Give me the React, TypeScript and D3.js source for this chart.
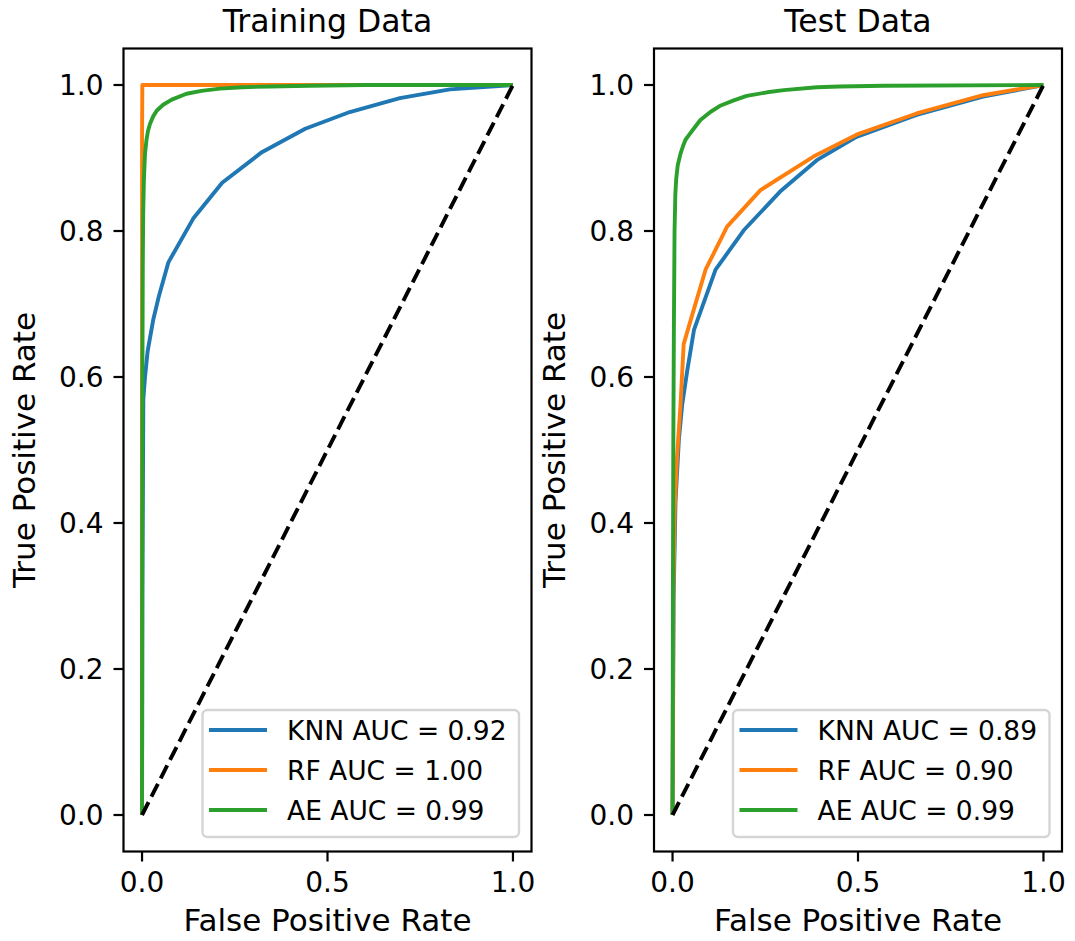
import React from "react";
import * as d3 from "d3";

// ---------- Data ----------
const trainKnnFpr = [0, 0.001, 0.0035, 0.008, 0.015, 0.03, 0.045, 0.071, 0.138, 0.216, 0.323, 0.44, 0.56, 0.695, 0.83, 1];
const trainKnnTpr = [0, 0.3, 0.57, 0.6, 0.635, 0.678, 0.71, 0.757, 0.817, 0.866, 0.908, 0.94, 0.963, 0.982, 0.994, 1];

const trainRfFpr = [0, 0, 0.0008, 1];
const trainRfTpr = [0, 0.93, 1, 1];

const trainAeFpr = [0, 0.0005, 0.001, 0.002, 0.003, 0.005, 0.008, 0.012, 0.016, 0.0216, 0.03, 0.04, 0.057, 0.08, 0.12, 0.16, 0.21, 0.27, 0.345, 0.45, 0.6, 1];
const trainAeTpr = [0, 0.4, 0.6, 0.75, 0.82, 0.87, 0.906, 0.925, 0.937, 0.947, 0.957, 0.965, 0.973, 0.98, 0.988, 0.992, 0.995, 0.997, 0.998, 0.999, 1, 1];

const testKnnFpr = [0, 0.003, 0.008, 0.017, 0.026, 0.04, 0.058, 0.116, 0.192, 0.29, 0.389, 0.496, 0.658, 0.837, 1];
const testKnnTpr = [0, 0.3, 0.43, 0.514, 0.562, 0.61, 0.665, 0.747, 0.801, 0.854, 0.897, 0.929, 0.959, 0.984, 1];

const testRfFpr = [0, 0.002, 0.006, 0.012, 0.0215, 0.03, 0.057, 0.089, 0.147, 0.237, 0.38, 0.496, 0.658, 0.837, 1];
const testRfTpr = [0, 0.3, 0.42, 0.49, 0.562, 0.645, 0.692, 0.747, 0.806, 0.856, 0.902, 0.932, 0.961, 0.986, 1];

const testAeFpr = [0, 0.001, 0.002, 0.0035, 0.0054, 0.0075, 0.01, 0.014, 0.0215, 0.028, 0.035, 0.045, 0.057, 0.075, 0.102, 0.13, 0.165, 0.2, 0.255, 0.3, 0.389, 0.45, 0.57, 1];
const testAeTpr = [0, 0.3, 0.5, 0.655, 0.8, 0.85, 0.872, 0.89, 0.906, 0.916, 0.925, 0.932, 0.94, 0.952, 0.963, 0.972, 0.979, 0.985, 0.99, 0.993, 0.997, 0.998, 0.999, 1];

const chanceFpr = [0, 1];
const chanceTpr = [0, 1];

const trainLabels = ["KNN AUC = 0.92", "RF AUC = 1.00", "AE AUC = 0.99"];
const testLabels = ["KNN AUC = 0.89", "RF AUC = 0.90", "AE AUC = 0.99"];
const seriesColors = ["#1f77b4", "#ff7f0e", "#2ca02c"];

const panelTitles = ["Training Data", "Test Data"];
const yTicks = [0, 0.2, 0.4, 0.6, 0.8, 1.0];
const xTicks = [0, 0.5, 1.0];

// ---------- Layout ----------
const W = 1075;
const H = 941;
const top = 48.5;
const bottom = 851.5;
const panelLefts = [123.5, 654];
const panelWidth = 408;
const FONT = "DejaVu Sans, sans-serif";
const LW = 3.9;

type Series = { fpr: number[]; tpr: number[] };

const panels: { title: string; labels: string[]; series: Series[] }[] = [
  {
    title: panelTitles[0],
    labels: trainLabels,
    series: [
      { fpr: trainKnnFpr, tpr: trainKnnTpr },
      { fpr: trainRfFpr, tpr: trainRfTpr },
      { fpr: trainAeFpr, tpr: trainAeTpr },
    ],
  },
  {
    title: panelTitles[1],
    labels: testLabels,
    series: [
      { fpr: testKnnFpr, tpr: testKnnTpr },
      { fpr: testRfFpr, tpr: testRfTpr },
      { fpr: testAeFpr, tpr: testAeTpr },
    ],
  },
];

function Panel({ idx }: { idx: number }) {
  const p = panels[idx];
  const left = panelLefts[idx];
  const right = left + panelWidth;
  const x = d3.scaleLinear().domain([-0.05, 1.05]).range([left, right]);
  const y = d3.scaleLinear().domain([-0.05, 1.05]).range([bottom, top]);
  const line = d3
    .line<[number, number]>()
    .x((d) => x(d[0]))
    .y((d) => y(d[1]));
  const toPts = (f: number[], t: number[]) => f.map((v, i) => [v, t[i]] as [number, number]);
  const cx = (left + right) / 2;
  const cy = (top + bottom) / 2;

  // legend geometry
  const legRight = right - 12.5;
  const legLeft = legRight - 316.5;
  const legTop = 710;
  const legBottom = 837;
  const rowYs = [730, 770, 810];

  return (
    <g>
      <defs>
        <clipPath id={`clip${idx}`}>
          <rect x={left} y={top} width={panelWidth} height={bottom - top} />
        </clipPath>
      </defs>
      <g clipPath={`url(#clip${idx})`}>
        {p.series.map((s, i) => (
          <path
            key={i}
            d={line(toPts(s.fpr, s.tpr)) || ""}
            fill="none"
            stroke={seriesColors[i]}
            strokeWidth={LW}
            strokeLinejoin="round"
            strokeLinecap="butt"
          />
        ))}
        <path
          d={line(toPts(chanceFpr, chanceTpr)) || ""}
          fill="none"
          stroke="#000"
          strokeWidth={LW}
          strokeDasharray="14.4 6.2"
        />
      </g>
      {/* frame */}
      <rect x={left} y={top} width={panelWidth} height={bottom - top} fill="none" stroke="#000" strokeWidth={2.2} />
      {/* y ticks */}
      {yTicks.map((t) => (
        <g key={"y" + t}>
          <line x1={left - 10} x2={left} y1={y(t)} y2={y(t)} stroke="#000" strokeWidth={2.2} />
          <text x={left - 20} y={y(t)} dy="0.36em" textAnchor="end" fontFamily={FONT} fontSize={28} fill="#000">
            {t.toFixed(1)}
          </text>
        </g>
      ))}
      {/* x ticks */}
      {xTicks.map((t) => (
        <g key={"x" + t}>
          <line x1={x(t)} x2={x(t)} y1={bottom} y2={bottom + 10} stroke="#000" strokeWidth={2.2} />
          <text x={x(t)} y={892} textAnchor="middle" fontFamily={FONT} fontSize={28} fill="#000">
            {t.toFixed(1)}
          </text>
        </g>
      ))}
      {/* title */}
      <text x={cx} y={32} textAnchor="middle" fontFamily={FONT} fontSize={31.5} fill="#000">
        {p.title}
      </text>
      {/* axis labels */}
      <text x={cx} y={931} textAnchor="middle" fontFamily={FONT} fontSize={31} fill="#000">
        False Positive Rate
      </text>
      <text
        transform={`translate(${left - 89},${cy}) rotate(-90)`}
        textAnchor="middle"
        fontFamily={FONT}
        fontSize={31}
        fill="#000"
      >
        True Positive Rate
      </text>
      {/* legend */}
      <rect
        x={legLeft}
        y={legTop}
        width={legRight - legLeft}
        height={legBottom - legTop}
        rx={5}
        ry={5}
        fill="#fff"
        fillOpacity={0.8}
        stroke="#d5d5d5"
        strokeWidth={2.4}
      />
      {p.labels.map((lab, i) => (
        <g key={lab}>
          <line x1={legLeft + 6.5} x2={legLeft + 64.5} y1={rowYs[i]} y2={rowYs[i]} stroke={seriesColors[i]} strokeWidth={LW} />
          <text x={legLeft + 84.5} y={rowYs[i]} dy="0.36em" fontFamily={FONT} fontSize={26.5} fill="#000">
            {lab}
          </text>
        </g>
      ))}
    </g>
  );
}

export default function App() {
  return (
    <svg
      width={W}
      height={H}
      viewBox={`0 0 ${W} ${H}`}
      style={{ position: "absolute", left: 0, top: 0, background: "#fff" }}
    >
      <rect x={0} y={0} width={W} height={H} fill="#fff" />
      <Panel idx={0} />
      <Panel idx={1} />
    </svg>
  );
}
